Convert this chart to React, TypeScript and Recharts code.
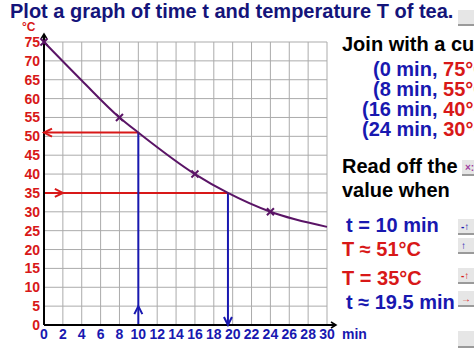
import React from "react";
import { ComposedChart, Line, Scatter, XAxis, YAxis, CartesianGrid, ReferenceLine, ReferenceDot } from "recharts";

// axis ticks
const timeTicks = [0, 2, 4, 6, 8, 10, 12, 14, 16, 18, 20, 22, 24, 26, 28, 30];
const tempTicks = [0, 5, 10, 15, 20, 25, 30, 35, 40, 45, 50, 55, 60, 65, 70, 75];

// cooling curve
const curveTime = [0, 4, 8, 10, 16, 19.5, 24, 30];
const curveTemp = [75, 64.8, 55, 51, 40, 35, 30, 26];

// plotted crosses
const markTime = [0, 8, 16, 24];
const markTemp = [75, 55, 40, 30];

// read-off values
const readT = 10;
const readTemp = 51;
const readTemp2 = 35;
const readT2 = 19.5;

const NAVY = "#14147a";
const BLUE = "#1818b0";
const RED = "#d81818";
const PURPLE = "#5a1466";
const FONT = "'Liberation Sans', Arial, sans-serif";

const curve = curveTime.map((t, i) => ({ t, T: curveTemp[i] }));
const marks = markTime.map((t, i) => ({ t, T: markTemp[i] }));

const chevron = (dir: string, color: string, len = 8, half = 4) => (p: any) => {
  const { cx, cy } = p;
  let pts = "";
  if (dir === "left") pts = `${cx + len},${cy - half} ${cx},${cy} ${cx + len},${cy + half}`;
  if (dir === "right") pts = `${cx - len},${cy - half} ${cx},${cy} ${cx - len},${cy + half}`;
  if (dir === "up") pts = `${cx - half},${cy + len} ${cx},${cy} ${cx + half},${cy + len}`;
  if (dir === "down") pts = `${cx - half},${cy - len} ${cx},${cy} ${cx + half},${cy - len}`;
  return <polyline points={pts} fill="none" stroke={color} strokeWidth={2} />;
};

const yAxisEnd = (p: any) => (
  <g>
    <line x1={p.cx} y1={p.cy} x2={p.cx} y2={p.cy - 8} stroke="#000" strokeWidth={2} />
    <polyline points={`${p.cx - 3},${p.cy - 3} ${p.cx},${p.cy - 8} ${p.cx + 3},${p.cy - 3}`} fill="none" stroke="#000" strokeWidth={1.5} />
  </g>
);
const xAxisEnd = (p: any) => (
  <g>
    <line x1={p.cx} y1={p.cy} x2={p.cx + 9} y2={p.cy} stroke="#000" strokeWidth={2} />
    <polyline points={`${p.cx + 4},${p.cy - 3} ${p.cx + 9},${p.cy} ${p.cx + 4},${p.cy + 3}`} fill="none" stroke="#000" strokeWidth={1.5} />
  </g>
);

const cross = (p: any) => {
  const { cx, cy } = p;
  const s = 3.5;
  return (
    <g stroke={PURPLE} strokeWidth={2}>
      <line x1={cx - s} y1={cy - s} x2={cx + s} y2={cy + s} />
      <line x1={cx - s} y1={cy + s} x2={cx + s} y2={cy - s} />
    </g>
  );
};

const Btn = ({ x, y, w = 18, h = 15, label = "", color = BLUE }: any) => (
  <g>
    <rect x={x} y={y} width={w} height={h} fill="#e6e6e6" />
    <line x1={x} y1={y + h} x2={x + w} y2={y + h} stroke="#9a9a9a" strokeWidth={2} />
    <text x={x + 3} y={y + 11} fontSize={10} fontWeight="bold" fill={color}>{label}</text>
  </g>
);

export default function App() {
  return (
    <div style={{ position: "absolute", left: 0, top: 0, width: 474, height: 355, overflow: "hidden", background: "#fff", fontFamily: FONT }}>
      <ComposedChart width={474} height={355} margin={{ top: 42, right: 147, left: 0, bottom: 0 }}>
        <CartesianGrid stroke="#ababab" strokeWidth={1} />
        <XAxis type="number" dataKey="t" domain={[0, 30]} ticks={timeTicks} interval={0} height={30}
          tickLine={false} tickSize={4} tickMargin={0} axisLine={{ stroke: "#000", strokeWidth: 2 }}
          tick={{ fill: BLUE, fontSize: 14, fontWeight: "bold", fontFamily: FONT }} />
        <YAxis type="number" domain={[0, 75]} ticks={tempTicks} interval={0} width={44}
          tickLine={false} tickSize={4} tickMargin={0} axisLine={{ stroke: "#000", strokeWidth: 2 }}
          tick={{ fill: RED, fontSize: 14, fontWeight: "bold", fontFamily: FONT }} />
        <ReferenceLine segment={[{ x: 0, y: readTemp }, { x: readT, y: readTemp }]} stroke={RED} strokeWidth={2} />
        <ReferenceLine segment={[{ x: 0, y: readTemp2 }, { x: readT2, y: readTemp2 }]} stroke={RED} strokeWidth={2} />
        <ReferenceLine segment={[{ x: readT, y: 0 }, { x: readT, y: readTemp }]} stroke={BLUE} strokeWidth={2} />
        <ReferenceLine segment={[{ x: readT2, y: 0 }, { x: readT2, y: readTemp2 }]} stroke={BLUE} strokeWidth={2} />
        <ReferenceDot x={0} y={readTemp} r={0} shape={chevron("left", RED)} />
        <ReferenceDot x={2} y={readTemp2} r={0} shape={chevron("right", RED)} />
        <ReferenceDot x={readT} y={5} r={0} shape={chevron("up", BLUE)} />
        <ReferenceDot x={readT2} y={0} r={0} shape={chevron("down", BLUE)} />
        <ReferenceDot x={0} y={75} r={0} shape={yAxisEnd} />
        <ReferenceDot x={30} y={0} r={0} shape={xAxisEnd} />
        <Line data={curve} dataKey="T" type="monotone" stroke={PURPLE} strokeWidth={2} dot={false} isAnimationActive={false} />
        <Scatter data={marks} dataKey="T" shape={cross} isAnimationActive={false} />
      </ComposedChart>
      <svg width={474} height={355} style={{ position: "absolute", left: 0, top: 0, pointerEvents: "none" }} fontFamily={FONT} fontWeight="bold">
        <text x={10} y={18} fontSize={20} fill={NAVY}>Plot a graph of time t and temperature T of tea.</text>
        <text x={22} y={31} fontSize={12} fill={RED}>°C</text>
        <text x={342} y={339} fontSize={14} fill={BLUE}>min</text>
        <text x={342} y={51} fontSize={20} fill="#000">Join with a curve.</text>
        <text x={373} y={76} fontSize={20} fill={BLUE}>(0 min, <tspan fill={RED}>75°C</tspan>)</text>
        <text x={373} y={96} fontSize={20} fill={BLUE}>(8 min, <tspan fill={RED}>55°C</tspan>)</text>
        <text x={362} y={116} fontSize={20} fill={BLUE}>(16 min, <tspan fill={RED}>40°C</tspan>)</text>
        <text x={362} y={136} fontSize={20} fill={BLUE}>(24 min, <tspan fill={RED}>30°C</tspan>)</text>
        <text x={342} y={173} fontSize={20} fill="#000">Read off the</text>
        <text x={342} y={197} fontSize={20} fill="#000">value when</text>
        <text x={346} y={232} fontSize={20} fill={BLUE}>t = 10 min</text>
        <text x={342} y={256} fontSize={20} fill={RED}>T ≈ 51°C</text>
        <text x={342} y={285} fontSize={20} fill={RED}>T = 35°C</text>
        <text x={346} y={309} fontSize={20} fill={BLUE}>t ≈ 19.5 min</text>
        <Btn x={458} y={10} />
        <Btn x={462} y={160} w={14} label="×:" color="#a040a0" />
        <Btn x={458} y={219} label="-↑" />
        <Btn x={458} y={238} label="↑" />
        <Btn x={458} y={268} label="-↑" color={RED} />
        <Btn x={458} y={291} label="→" color={RED} />
        <Btn x={458} y={331} h={16} />
      </svg>
    </div>
  );
}
